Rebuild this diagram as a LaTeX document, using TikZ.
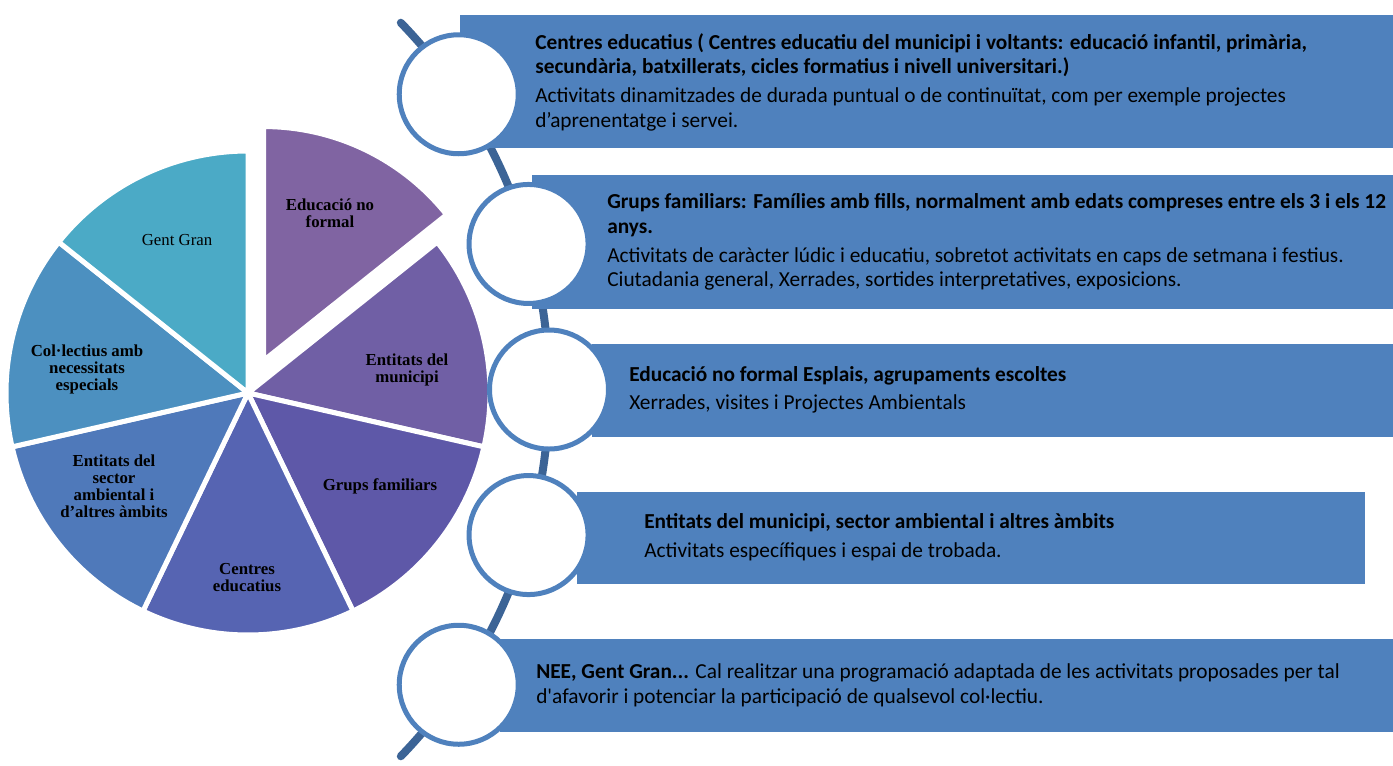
\documentclass[tikz,border=0pt]{standalone}
\usepackage{fontspec}
\setmainfont{Carlito}
\newfontfamily\piefont{Liberation Serif}
\usetikzlibrary{positioning}

\definecolor{panelblue}{HTML}{4F81BD}
\definecolor{spineblue}{HTML}{3C6496}
\definecolor{pieA}{HTML}{8064A2}
\definecolor{pieB}{HTML}{705FA5}
\definecolor{pieC}{HTML}{5E58A8}
\definecolor{pieD}{HTML}{5664B2}
\definecolor{pieE}{HTML}{4F79BA}
\definecolor{pieF}{HTML}{4C90C0}
\definecolor{pieG}{HTML}{4BAAC6}

\tikzset{
    panel/.style 2 args={fill=panelblue, draw=none, anchor=north west, inner sep=0,
        minimum width=#1*0.75pt, minimum height=#2*0.75pt},
    ring/.style={circle, draw=panelblue, line width=3.75pt, fill=white,
        minimum size=89.25pt, inner sep=0},
    spine/.style={draw=spineblue, line width=6pt, line cap=round},
    blurb/.style={anchor=west, align=left, inner sep=0, text=black,
        font=\fontsize{16}{18.5}\selectfont},
    wedge/.style={draw=white, line width=3.75pt, line join=round},
    slice/.style={align=center, inner sep=0, text=black,
        font=\piefont\fontsize{12.6}{12.75}\selectfont\bfseries},
}

\begin{document}
\begin{tikzpicture}[x=0.75pt, y=0.75pt]
    \path[use as bounding box] (0,0) rectangle (1393,-765);

    % pie
    \coordinate (pc) at (248,-393);
    \coordinate (pcOut) at ([shift={(64.29:36)}]pc);
    \foreach \a/\c in {-12.86/pieB, -64.29/pieC, -115.71/pieD, -167.14/pieE, -218.57/pieF, -270/pieG}
        \filldraw[wedge, fill=\c] (pc) -- ++(\a:242) arc[start angle=\a, delta angle=51.43, radius=242] -- cycle;
    \filldraw[wedge, fill=pieA] (pcOut) -- ++(38.57:234) arc[start angle=38.57, delta angle=51.43, radius=234] -- cycle;

    \node[slice] (sEdu) at (330,-213) {Educació no\\formal};
    \node[slice] (sMun) at (407,-370) {Entitats del\\municipi};
    \node[slice] (sFam) at (380,-486) {Grups familiars};
    \node[slice] (sCen) at (247,-578) {Centres\\educatius};
    \node[slice] (sSec) at (114,-486) {Entitats del\\sector\\ambiental i\\d’altres àmbits};
    \node[slice] (sCol) at (87,-369) {Col·lectius amb\\necessitats\\especials};
    \node[slice, font=\piefont\fontsize{12.6}{12.75}\selectfont] (sGent) at (177,-240) {Gent Gran};

    % spine and panels
    \coordinate (hub) at (21,-389.5);
    \coordinate (spineTop) at ([shift={(44:528)}]hub);
    \draw[spine] (spineTop) arc[start angle=44, end angle=-44, radius=528];

    \node[panel={933}{133}] (b1) at (460,-15) {};
    \node[panel={861}{134}] (b2) at (532,-175) {};
    \node[panel={801}{93}] (b3) at (592,-344) {};
    \node[panel={788}{92}] (b4) at (577,-492) {};
    \node[panel={893}{93}] (b5) at (500,-639) {};

    \node[ring] (c1) at ([shift={(34:528)}]hub) {};
    \node[ring] (c2) at ([shift={(16:528)}]hub) {};
    \node[ring] (c3) at ([shift={(0:528)}]hub) {};
    \node[ring] (c4) at ([shift={(-16:528)}]hub) {};
    \node[ring] (c5) at ([shift={(-34:528)}]hub) {};

    \node[blurb] (t1) at (535,-82) {\textbf{Centres educatius ( Centres educatiu del municipi i voltants: educació infantil, primària,}\\
        \textbf{secundària, batxillerats, cicles formatius i nivell universitari.)}\\[3pt]
        Activitats dinamitzades de durada puntual o de continuïtat, com per exemple projectes\\
        d’aprenentatge i servei.};
    \node[blurb] (t2) at (607,-242) {\textbf{Grups familiars: Famílies amb fills, normalment amb edats compreses entre els 3 i els 12}\\
        \textbf{anys.}\\[3pt]
        Activitats de caràcter lúdic i educatiu, sobretot activitats en caps de setmana i festius.\\
        Ciutadania general, Xerrades, sortides interpretatives, exposicions.};
    \node[blurb] (t3) at (629,-390) {\textbf{Educació no formal Esplais, agrupaments escoltes}\\[3pt]
        Xerrades, visites i Projectes Ambientals};
    \node[blurb] (t4) at (644,-537) {\textbf{Entitats del municipi, sector ambiental i altres àmbits}\\[3pt]
        Activitats específiques i espai de trobada.};
    \node[blurb] (t5) at (536,-685.5) {\textbf{NEE, Gent Gran...} Cal realitzar una programació adaptada de les activitats proposades per tal\\
        d\textquotesingle afavorir i potenciar la participació de qualsevol col·lectiu.};
\end{tikzpicture}
\end{document}
